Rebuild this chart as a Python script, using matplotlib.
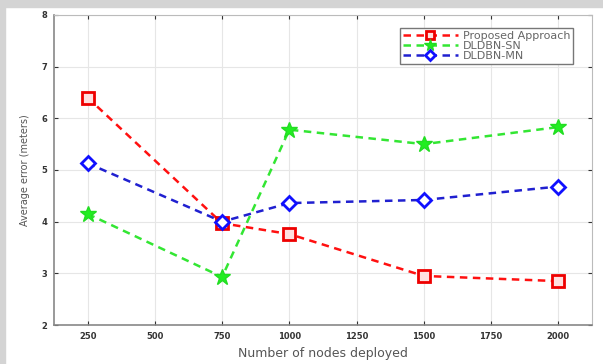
import matplotlib.pyplot as plt
from matplotlib.patches import Rectangle

plt.rcParams["font.family"] = "DejaVu Sans"
plt.rcParams.update({"font.size": 7})

# nodes deployed vs. average localisation error
nodes = [250, 750, 1000, 1500, 2000]
proposed = [6.40, 3.97, 3.76, 2.95, 2.85]
dldbn_sn = [4.15, 2.93, 5.78, 5.50, 5.83]
dldbn_mn = [5.13, 4.00, 4.36, 4.42, 4.68]

xticks = [250, 500, 750, 1000, 1250, 1500, 1750, 2000]
yticks = [2, 3, 4, 5, 6, 7, 8]

fig = plt.figure(figsize=(6.03, 3.64), dpi=100)
fig.patch.set_facecolor("white")

# page frame around the figure
fig.patches.append(Rectangle((0, 0), 0.009, 1, transform=fig.transFigure,
                             color="#d4d4d4", zorder=0))
fig.patches.append(Rectangle((0, 0.982), 1, 0.018, transform=fig.transFigure,
                             color="#d4d4d4", zorder=0))

ax = fig.add_axes([0.0896, 0.107, 0.892, 0.852])

ax.plot(nodes, proposed, "--s", color="#ff1010", lw=1.8, ms=8,
        mfc="#ffe0e0", mec="#ee0000", mew=2, dashes=(3, 2.2),
        label="Proposed Approach")
ax.plot(nodes, dldbn_sn, "--*", color="#33e633", lw=1.8, ms=12,
        mfc="#22ee22", mec="#22dd22", dashes=(3, 2.2), label="DLDBN-SN")
ax.plot(nodes, dldbn_mn, "--D", color="#2020d0", lw=1.8, ms=7.5,
        mfc="white", mec="#1010ff", mew=2, dashes=(3, 2.2),
        label="DLDBN-MN")

ax.set_xlim(125, 2125)
ax.set_ylim(2, 8)
ax.set_xticks(xticks)
ax.set_yticks(yticks)
ax.tick_params(labelsize=6, length=3, direction="in", colors="#333333",
               top=True, right=True, pad=5)
for lab in ax.get_xticklabels() + ax.get_yticklabels():
    lab.set_fontweight("bold")
ax.grid(True, color="#e6e6e6", lw=0.8)
ax.set_axisbelow(True)

for side in ["left", "bottom"]:
    ax.spines[side].set_color("#888888")
    ax.spines[side].set_linewidth(1.2)
for side in ["top", "right"]:
    ax.spines[side].set_color("#bbbbbb")

ax.set_ylabel("Average error (meters)", fontsize=7, color="#555555",
              labelpad=8)
ax.set_xlabel("Number of nodes deployed", fontsize=9, color="#555555",
              labelpad=4)

leg = ax.legend(loc="upper right", fontsize=8, handlelength=5,
                handletextpad=0.4, labelspacing=0.0, borderpad=0.25,
                markerscale=0.7, fancybox=False, framealpha=1,
                bbox_to_anchor=(0.975, 0.975))
leg.get_frame().set_edgecolor("#777777")
for t in leg.get_texts():
    t.set_color("#666666")

fig.savefig("out.png", dpi=100)
